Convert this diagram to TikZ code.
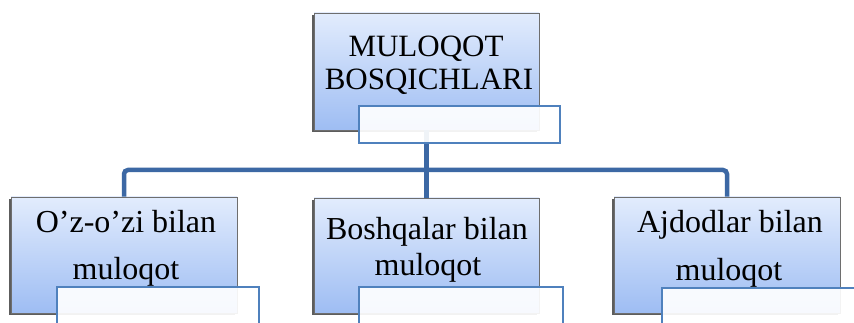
\documentclass[tikz,border=0pt]{standalone}
\usepackage{fontspec}
\setmainfont{Liberation Serif}
\usetikzlibrary{shadows}
\definecolor{boxtop}{RGB}{226,236,253}
\definecolor{boxbot}{RGB}{158,189,243}
\definecolor{boxline}{RGB}{110,110,110}
\definecolor{ovline}{RGB}{79,129,189}
\definecolor{conncol}{RGB}{60,104,164}
\tikzset{
  mainbox/.style={rectangle, minimum width=226pt, minimum height=116pt, inner sep=0pt,
    top color=boxtop, bottom color=boxbot, draw=boxline, line width=0.8pt,
    drop shadow={shadow xshift=-1.6pt, shadow yshift=-1.6pt, fill=black!70, opacity=0.9}},
  overbox/.style={rectangle, inner sep=0pt, fill=white, fill opacity=0.92, draw=ovline, line width=1.3pt},
  conn/.style={draw=conncol, line width=4.5pt, rounded corners=4pt},
  bigtxt/.style={font=\fontsize{31}{33}\selectfont, text=black, anchor=base, inner sep=0pt},
  txt/.style={font=\fontsize{32}{34}\selectfont, text=black, anchor=base, inner sep=0pt}
}
\begin{document}
\begin{tikzpicture}[x=1pt,y=-1pt]
\clip (0,0) rectangle (854,323);
\fill[white] (0,0) rectangle (854,323);
% boxes
\node[mainbox, minimum width=225pt, minimum height=117pt] (top) at (426.5,71.5) {};
\node[mainbox] (b1) at (124,255) {};
\node[mainbox, minimum width=225pt, minimum height=115pt] (b2) at (426.5,255.5) {};
\node[mainbox] (b3) at (727,255) {};
% connectors
\coordinate (bus) at (426.5,170);
\draw[conn] (b1.north) |- (bus) -| (b3.north);
\draw[conn] (top.south) -- (b2.north);
% texts
\node[bigtxt] (t0a) at (426,57) {MULOQOT};
\node[bigtxt] (t0b) at (429,90) {BOSQICHLARI};
\node[txt] (t1a) at (126,233) {O’z-o’zi bilan};
\node[txt] (t1b) at (126,279) {muloqot};
\node[txt] (t2a) at (427,240) {Boshqalar bilan};
\node[txt] (t2b) at (428,275) {muloqot};
\node[txt] (t3a) at (730,233) {Ajdodlar bilan};
\node[txt] (t3b) at (729,280) {muloqot};
% overlay boxes
\node[overbox, minimum width=201pt, minimum height=37pt] (o0) at (459.5,124.5) {};
\node[overbox, minimum width=202pt, minimum height=50pt] (o1) at (158,312) {};
\node[overbox, minimum width=204pt, minimum height=50pt] (o2) at (461,312) {};
\node[overbox, minimum width=210pt, minimum height=50pt] (o3) at (767,313) {};
\end{tikzpicture}
\end{document}
